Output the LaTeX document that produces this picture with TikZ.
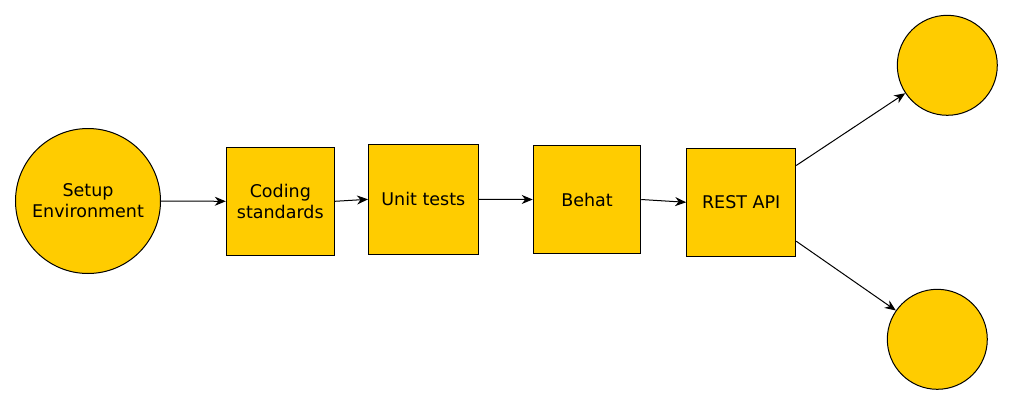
\documentclass[tikz,border=0pt]{standalone}
\usepackage{fontspec}
\setmainfont{DejaVu Sans}
\usetikzlibrary{arrows.meta,calc}
\definecolor{gold}{HTML}{FFCC00}
\tikzset{
  stepbox/.style={draw=black, fill=gold, line width=1pt, rectangle, inner sep=0pt, align=center, font=\fontsize{17.5}{21}\selectfont},
  stepcirc/.style={draw=black, fill=gold, line width=1pt, circle, inner sep=0pt, align=center, font=\fontsize{17.5}{21}\selectfont},
  conn/.style={line width=1pt, -{Stealth[length=11pt,width=9pt,inset=3.5pt]}}
}
\begin{document}
\begin{tikzpicture}[x=1pt,y=-1pt]
\useasboundingbox (0,0) rectangle (1013,405);
\node[stepcirc, minimum size=145pt] (setup) at (88,201) {Setup\\Environment};
\node[stepbox, minimum width=108pt, minimum height=108pt] (coding) at (280.3,201.3) {Coding\\standards};
\node[stepbox, minimum width=109.5pt, minimum height=109.5pt] (unit) at (423.3,199.3) {Unit tests};
\node[stepbox, minimum width=107.5pt, minimum height=107.5pt] (behat) at (587,199.5) {Behat};
\node[stepbox, minimum width=109pt, minimum height=108pt] (rest) at (741.2,202.3) {REST API};
\node[stepcirc, minimum size=100pt] (top) at (947.3,65.3) {};
\node[stepcirc, minimum size=100pt] (bot) at (937.3,339.3) {};
\coordinate (restA) at ($(rest.north east)+(0,17.7)$);
\coordinate (restB) at ($(rest.south east)+(0,-15.6)$);
\draw[conn] (setup.east) -- (coding.west);
\draw[conn] (coding.east) -- (unit.west);
\draw[conn] (unit.east) -- (behat.west);
\draw[conn] (behat.east) -- (rest.west);
\draw[conn] (restA) -- (top);
\draw[conn] (restB) -- (bot);
\end{tikzpicture}
\end{document}
